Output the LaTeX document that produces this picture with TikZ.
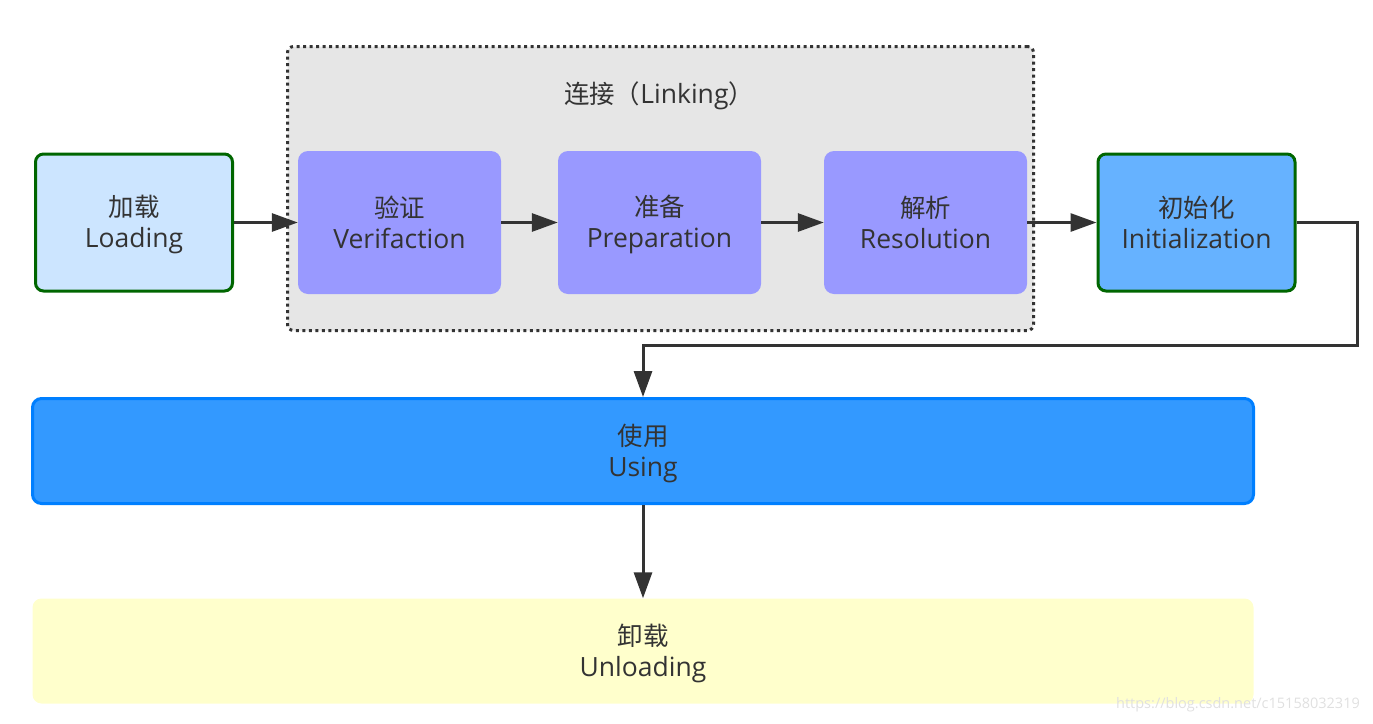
\documentclass[tikz,border=0pt]{standalone}
\usepackage{fontspec}
\setmainfont{Open Sans}
\newfontfamily\cjk[Scale=0.96]{Noto Sans CJK SC}
\usetikzlibrary{arrows.meta}
\definecolor{txtgray}{HTML}{333333}
\definecolor{loadfill}{HTML}{CCE5FF}
\definecolor{initfill}{HTML}{66B2FF}
\definecolor{stepfill}{HTML}{9999FF}
\definecolor{linkfill}{HTML}{E6E6E6}
\definecolor{usefill}{HTML}{3399FF}
\definecolor{useline}{HTML}{007FFF}
\definecolor{unloadfill}{HTML}{FFFFCC}
\definecolor{greenline}{HTML}{006600}
% fixed line box, and two-line label: Chinese name above, English name below
\newcommand{\linebox}{\rule[-5.3pt]{0pt}{31pt}}
\newcommand{\stagename}[2]{{\cjk #1}\linebox\\#2\linebox}

\begin{document}
\begin{tikzpicture}[x=1pt,y=-1pt,
  every node/.style={inner sep=0pt,text=txtgray,align=center,
    font=\fontsize{26.5}{31}\selectfont},
  phase/.style={draw=greenline,line width=3pt,rounded corners=8pt,
    minimum width=197pt,minimum height=137pt},
  linkstep/.style={fill=stepfill,rounded corners=10pt,
    minimum width=203pt,minimum height=143pt},
  wide/.style={rounded corners=9pt,minimum width=1221pt,minimum height=105pt},
  flow/.style={draw=txtgray,line width=3pt,
    -{Triangle[length=26pt,width=18pt]}}]
\useasboundingbox (0,0) rectangle (1373,723);
% group box for the linking stage
\node[fill=linkfill,draw=txtgray,line width=3pt,dash pattern=on 3pt off 3.5pt,
  rounded corners=6pt,minimum width=746pt,minimum height=284pt]
  (linking) at (660.5,188.5) {};
\node (linktitle) at (659,94) {{\cjk 连接（}Linking{\cjk ）}\linebox};
% stages
\node[phase,fill=loadfill] (loading) at (134,222.5) {\stagename{加载}{Loading}};
\node[linkstep] (verify) at (399.5,222.5) {\stagename{验证}{Verifaction}};
\node[linkstep] (prepare) at (659.5,222.5) {\stagename{准备}{Preparation}};
\node[linkstep] (resolve) at (925.5,222.5) {\stagename{解析}{Resolution}};
\node[phase,fill=initfill] (init) at (1196.5,222.5)
  {\stagename{初始化}{Initialization}};
\node[wide,fill=usefill,draw=useline,line width=3pt] (using) at (643,451)
  {\stagename{使用}{Using}};
\node[wide,fill=unloadfill] (unload) at (643,651)
  {\stagename{卸载}{Unloading}};
\node[text=black!12,font=\fontsize{14.5}{16}\selectfont] (mark) at (1238,705)
  {https://blog.csdn.net/c15158032319};
% connectors
\coordinate (turn) at (1357,345);
\draw[flow] (loading) -- (verify);
\draw[flow] (verify) -- (prepare);
\draw[flow] (prepare) -- (resolve);
\draw[flow] (resolve) -- (init);
\draw[flow] (init.east) -| (turn) -| (using.north);
\draw[flow] (using) -- (unload);
\end{tikzpicture}
\end{document}
